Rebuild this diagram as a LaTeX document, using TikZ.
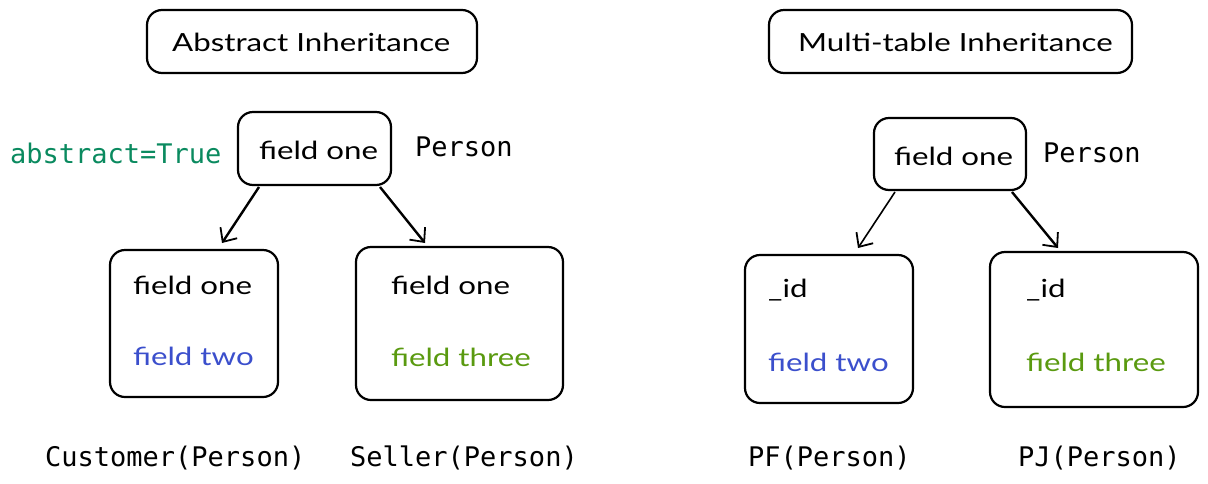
\documentclass[tikz,border=0pt]{standalone}
\usepackage{fontspec}
\setmainfont{Lato}
\newfontfamily\codefont{DejaVu Sans Mono}
\usetikzlibrary{arrows.meta}
\definecolor{fblue}{HTML}{3B4FCC}
\definecolor{fgreen}{HTML}{5A9A10}
\definecolor{cgreen}{HTML}{0A8A5F}
\newcommand{\hw}[1]{\scalebox{1.25}[1]{#1}}
\tikzset{
  box/.style={draw=black, line width=2.2pt, rounded corners=15pt},
  hand/.style={font=\fontsize{25}{29}\selectfont, inner sep=0pt, anchor=west},
  code/.style={font=\codefont\fontsize{27}{32}\selectfont, inner sep=0pt},
  arr/.style={line width=2.4pt, -{Straight Barb[length=11pt,width=20pt,line width=1.8pt]}}
}
\begin{document}
\begin{tikzpicture}[x=1pt,y=-1pt]
\useasboundingbox (0,0) rectangle (1208,483);
% titles
\draw[box] (147,10) rectangle (477,73);
\node[hand] (t1) at (172,42) {\hw{Abstract Inheritance}};
\draw[box] (769,10) rectangle (1132,73);
\node[hand] (t2) at (798,42) {\hw{Multi-table Inheritance}};
% left person
\node[box, minimum width=153pt, minimum height=73pt] (p1) at (314.5,148.5) {};
\node[hand] at (259,150) {\hw{field one}};
\node[code, anchor=west, text=cgreen] (abs) at (10,153) {abstract=True};
\node[code, anchor=west] (pl1) at (415,147) {Person};
% customer
\node[box, minimum width=168pt, minimum height=147pt] (cu) at (194,323.5) {};
\node[hand] at (133,285) {\hw{field one}};
\node[hand, text=fblue] at (133,356) {\hw{field two}};
\node[code, anchor=west] (cul) at (45,458) {Customer(Person)};
% seller
\node[box, minimum width=207pt, minimum height=153pt] (se) at (459.5,323.5) {};
\node[hand] at (391,285) {\hw{field one}};
\node[hand, text=fgreen] at (391,357) {\hw{field three}};
\node[code, anchor=west] (sel) at (350,458) {Seller(Person)};
% right person
\node[box, minimum width=152pt, minimum height=72pt] (p2) at (950,154) {};
\node[hand] at (894,156) {\hw{field one}};
\node[code, anchor=west] (pl2) at (1043,153) {Person};
% PF
\node[box, minimum width=168pt, minimum height=148pt] (pf) at (829,329) {};
\node[hand] at (768,290) {\hw{\_id}};
\node[hand, text=fblue] at (768,362) {\hw{field two}};
\node[code, anchor=west] (pfl) at (748,458) {PF(Person)};
% PJ
\node[box, minimum width=208pt, minimum height=155pt] (pj) at (1094,329.5) {};
\node[hand] at (1026,290) {\hw{\_id}};
\node[hand, text=fgreen] at (1026,362) {\hw{field three}};
\node[code, anchor=west] (pjl) at (1018,458) {PJ(Person)};
% arrows
\coordinate (a1s) at (259,187); \coordinate (a1e) at (222,243);
\coordinate (a2s) at (380,187); \coordinate (a2e) at (425,243);
\coordinate (a3s) at (895,192); \coordinate (a3e) at (858,248);
\coordinate (a4s) at (1012,192); \coordinate (a4e) at (1058,248);
\draw[arr] (a1s) -- (a1e);
\draw[arr] (a2s) -- (a2e);
\draw[arr, line width=1.6pt] (a3s) -- (a3e);
\draw[arr] (a4s) -- (a4e);
\end{tikzpicture}
\end{document}
